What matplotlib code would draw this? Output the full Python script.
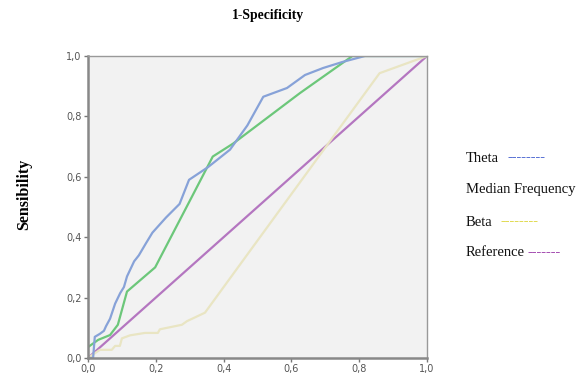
import matplotlib
matplotlib.use("Agg")
import matplotlib.pyplot as plt
from matplotlib.ticker import FuncFormatter

theta_x = [0.0, 0.015, 0.02, 0.035, 0.047, 0.053, 0.065, 0.08, 0.095, 0.106, 0.115, 0.136, 0.15, 0.171, 0.19,
           0.23, 0.27, 0.298, 0.354, 0.419, 0.47, 0.517, 0.587, 0.64, 0.693, 0.75, 0.817, 1.0]
theta_y = [0.0, 0.0, 0.07, 0.08, 0.09, 0.105, 0.13, 0.18, 0.215, 0.235, 0.27, 0.32, 0.34, 0.38, 0.415,
           0.465, 0.51, 0.59, 0.632, 0.69, 0.77, 0.865, 0.894, 0.937, 0.96, 0.98, 1.0, 1.0]

medfreq_x = [0.0, 0.03, 0.065, 0.088, 0.115, 0.198, 0.30, 0.368, 0.428, 0.625, 0.78, 1.0]
medfreq_y = [0.036, 0.06, 0.076, 0.11, 0.22, 0.30, 0.52, 0.667, 0.71, 0.877, 1.0, 1.0]

beta_x = [0.0, 0.035, 0.07, 0.08, 0.094, 0.10, 0.124, 0.168, 0.206, 0.212, 0.277, 0.292, 0.345, 0.478, 0.86, 1.0]
beta_y = [0.0, 0.027, 0.027, 0.04, 0.04, 0.065, 0.075, 0.083, 0.083, 0.095, 0.11, 0.122, 0.15, 0.355, 0.943, 1.0]

ref_x = [0.0, 1.0]
ref_y = [0.0, 1.0]

ticks = [0.0, 0.2, 0.4, 0.6, 0.8, 1.0]

legend_labels = ["Theta", "Median Frequency", "Beta", "Reference"]
legend_dashes = ["--------", "", "--------", "-------"]

c_theta = "#87a2d8"
c_med = "#6cc77a"
c_beta = "#e9e5c3"
c_ref = "#b476c0"

fig = plt.figure(figsize=(5.84, 3.76), dpi=100)
ax = fig.add_axes([0.1507, 0.0479, 0.5805, 0.8032])
ax.set_facecolor("#f2f2f2")

ax.plot(ref_x, ref_y, color=c_ref, lw=1.6)
ax.plot(beta_x, beta_y, color=c_beta, lw=1.6)
ax.plot(medfreq_x, medfreq_y, color=c_med, lw=1.6)
ax.plot(theta_x, theta_y, color=c_theta, lw=1.6)

ax.set_xlim(0, 1)
ax.set_ylim(0, 1)
ax.set_xticks(ticks)
ax.set_yticks(ticks)
fmt = FuncFormatter(lambda v, p: f"{v:.1f}".replace(".", ","))
ax.xaxis.set_major_formatter(fmt)
ax.yaxis.set_major_formatter(fmt)
ax.tick_params(axis="both", direction="out", length=3, width=1, color="#777777",
               labelsize=7, labelcolor="#555555", pad=1.5)
for s in ["top", "right"]:
    ax.spines[s].set_color("#999999")
    ax.spines[s].set_linewidth(1.0)
for s in ["left", "bottom"]:
    ax.spines[s].set_color("#888888")
    ax.spines[s].set_linewidth(1.8)

fig.text(268 / 584, 1 - 16 / 376, "1-Specificity", ha="center", va="center",
         family="Liberation Serif", weight="bold", fontsize=9.8)
fig.text(24 / 584, 1 - 194 / 376, "Sensibility", ha="center", va="center", rotation=90,
         family="Liberation Serif", weight="bold", fontsize=11.5)

ys = [158, 190, 222, 253]
dash_cols = ["#2848c8", None, "#d8d020", "#8a1a9a"]
dash_gap = [8, 0, 8, 2]
for lab, dsh, y, dc, g in zip(legend_labels, legend_dashes, ys, dash_cols, dash_gap):
    t = fig.text(466 / 584, 1 - y / 376, lab, ha="left", va="center",
                 family="Liberation Serif", fontsize=10.5, color="#111111")
    if dsh:
        fig.canvas.draw()
        bb = t.get_window_extent()
        x1 = bb.x1 / fig.bbox.width
        fig.text(x1 + g / 584, 1 - y / 376, dsh, ha="left", va="center",
                 family="Liberation Serif", fontsize=10.5, weight="bold", color=dc)

fig.savefig("out.png", dpi=100)
